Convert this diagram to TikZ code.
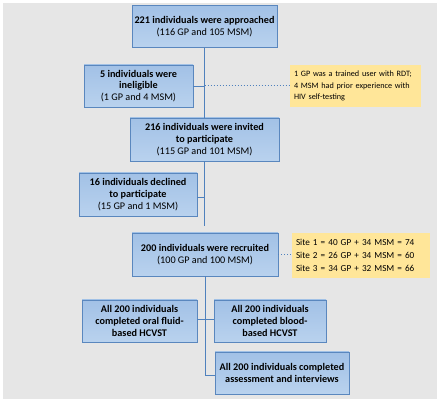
\documentclass[tikz,border=0pt]{standalone}
\usepackage{fontspec}
\setmainfont{Carlito}
\begin{document}
\begin{tikzpicture}[x=1pt,y=-1pt,
  box/.style={draw=boxline,line width=0.9pt,top color=boxtop,bottom color=boxbot,
    minimum height=42pt,align=center,font=\fontsize{10.2}{11.8}\selectfont,inner sep=1pt},
  note/.style={fill=notefill,align=left,font=\fontsize{8.2}{11.5}\selectfont,inner sep=4pt,minimum height=42pt},
  conn/.style={draw=connline,line width=0.9pt},
  dotconn/.style={draw=connline,line width=1pt,dotted}]
\definecolor{boxline}{HTML}{5A87BE}
\definecolor{boxtop}{HTML}{A2C1E6}
\definecolor{boxbot}{HTML}{B9D2EE}
\definecolor{notefill}{HTML}{FFE699}
\definecolor{connline}{HTML}{4F81BD}
\definecolor{bg}{HTML}{E6E6E6}
\useasboundingbox (0,0) rectangle (440,403);
\fill[bg] (3,3) rectangle (437,399);
\node[box,minimum width=145pt] (b1) at (204.5,26.5) {\textbf{221 individuals were approached}\\(116 GP and 105 MSM)};
\node[box,minimum width=109pt] (b2) at (138.5,86) {\textbf{5 individuals were}\\\textbf{ineligible}\\(1 GP and 4 MSM)};
\node[note,minimum width=131pt,text width=123pt] (n1) at (355.5,86) {1 GP was a trained user with RDT;\\4 MSM had prior experience with\\HIV self-testing};
\node[box,minimum width=149pt,minimum height=43pt] (b3) at (204.5,139.5) {\textbf{216 individuals were invited}\\\textbf{to participate}\\(115 GP and 101 MSM)};
\node[box,minimum width=118pt,minimum height=43pt] (b4) at (138,194.5) {\textbf{16 individuals declined}\\\textbf{to participate}\\(15 GP and 1 MSM)};
\node[box,minimum width=146pt,minimum height=43pt] (b5) at (205,254.5) {\textbf{200 individuals were recruited}\\(100 GP and 100 MSM)};
\node[note,inner sep=4pt,text width=130pt,minimum height=45pt,font=\fontsize{9.2}{13.3}\selectfont] (n2) at (361,255.5) {Site 1 = 40 GP + 34 MSM = 74\\Site 2 = 26 GP + 34 MSM = 60\\Site 3 = 34 GP + 32 MSM = 66};
\node[box,minimum width=115pt] (b6) at (139.5,321) {\textbf{All 200 individuals}\\\textbf{completed oral fluid-}\\\textbf{based HCVST}};
\node[box,minimum width=112pt] (b7) at (270,321) {\textbf{All 200 individuals}\\\textbf{completed blood-}\\\textbf{based HCVST}};
\node[box,minimum width=134pt] (b8) at (282,373) {\textbf{All 200 individuals completed}\\\textbf{assessment and interviews}};
\coordinate (j1) at (204.5,86);
\coordinate (j2) at (204.5,197);
\coordinate (e2) at (204.5,226);
\coordinate (j3) at (205,319);
\coordinate (j4) at (205,375);
\draw[conn] (b1.south) -- (b3.north);
\draw[conn] (b2.east) -- (j1);
\draw[dotconn] (j1) -- (n1.west);
\draw[conn] (b3.south) -- (e2);
\draw[conn] (b4.east |- j2) -- (j2);
\draw[dotconn] (b5.east) -- (b5.east -| n2.west);
\draw[conn] (b5.south) -- (j4) -- (b8.west |- j4);
\draw[conn] (b6.east |- j3) -- (b7.west |- j3);
\end{tikzpicture}
\end{document}
